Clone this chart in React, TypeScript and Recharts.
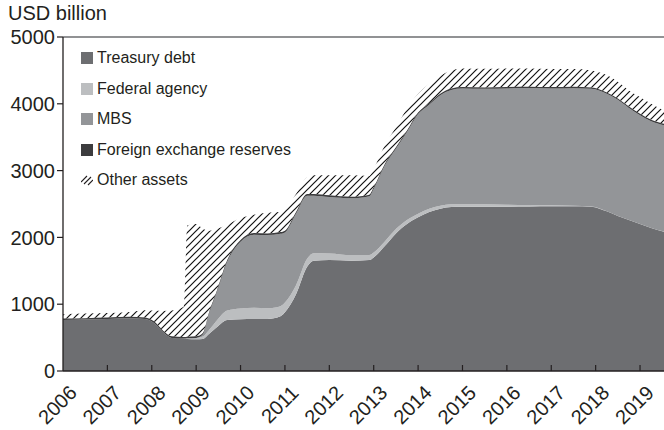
import React from "react";
import { AreaChart, Area, XAxis, YAxis, Legend, ReferenceLine } from "recharts";

const FONT = "'Liberation Sans', Arial, Helvetica, sans-serif";
const INK = "#231f20";

// time in decimal years
const dates = [
  2006.0, 2006.5, 2007.0, 2007.5, 2007.85, 2008.05, 2008.25, 2008.45, 2008.72, 2008.8,
  2009.0, 2009.15, 2009.3, 2009.47, 2009.7, 2010.0, 2010.3, 2010.6, 2010.9, 2011.0,
  2011.25, 2011.5, 2011.65, 2012.0, 2012.5, 2012.9, 2013.0, 2013.25, 2013.5, 2013.75,
  2014.0, 2014.25, 2014.5, 2014.75, 2015.0, 2015.5, 2016.0, 2016.5, 2017.0, 2017.5,
  2017.9, 2018.25, 2018.5, 2018.75, 2019.0, 2019.25, 2019.54,
];

const treasury = [
  765, 770, 780, 790, 780, 720, 585, 495, 485, 480,
  475, 480, 560, 660, 765, 775, 777, 778, 820, 880,
  1150, 1560, 1650, 1660, 1650, 1660, 1700, 1870, 2060, 2200,
  2300, 2380, 2430, 2455, 2460, 2460, 2460, 2462, 2465, 2465,
  2460, 2390, 2320, 2260, 2200, 2140, 2085,
];

const agency = [
  0, 0, 0, 0, 0, 0, 0, 0, 0, 10,
  20, 35, 60, 100, 140, 160, 168, 160, 150, 145,
  135, 120, 112, 100, 85, 76, 74, 70, 65, 60,
  55, 50, 45, 40, 38, 35, 30, 22, 15, 8,
  4, 3, 2, 2, 2, 2, 2,
];

const mbs = [
  0, 0, 0, 0, 0, 0, 0, 0, 0, 0,
  0, 30, 255, 425, 730, 1000, 1095, 1097, 1085, 1050,
  1069, 944, 862, 844, 850, 879, 951, 1136, 1201, 1316,
  1492, 1557, 1653, 1713, 1731, 1729, 1740, 1751, 1750, 1761,
  1760, 1756, 1737, 1677, 1627, 1597, 1592,
];

const fxReserves = [
  20, 20, 20, 22, 22, 23, 23, 24, 24, 24,
  25, 25, 25, 25, 25, 25, 25, 25, 25, 25,
  26, 26, 26, 26, 25, 25, 25, 24, 24, 24,
  23, 23, 22, 22, 21, 21, 20, 20, 20, 21,
  21, 21, 21, 21, 21, 21, 21,
];

const otherAssets = [
  65, 70, 70, 73, 108, 162, 292, 386, 451, 1666,
  1680, 1560, 1200, 920, 530, 330, 275, 310, 300, 320,
  270, 250, 280, 300, 320, 280, 280, 280, 300, 330,
  280, 290, 270, 270, 280, 280, 280, 275, 270, 265,
  255, 260, 250, 240, 250, 240, 200,
];

const yearTicks = [2006, 2007, 2008, 2009, 2010, 2011, 2012, 2013, 2014, 2015, 2016, 2017, 2018, 2019];
const valueTicks = [0, 1000, 2000, 3000, 4000, 5000];

const data = dates.map((t, i) => ({
  t,
  treasury: treasury[i],
  agency: agency[i],
  mbs: mbs[i],
  fx: fxReserves[i],
  other: otherAssets[i],
}));

const legendItems = [
  { name: "Treasury debt", color: "#6d6e71" },
  { name: "Federal agency", color: "#bcbec0" },
  { name: "MBS", color: "#939598" },
  { name: "Foreign exchange reserves", color: "#3c3c3e" },
  { name: "Other assets", color: "hatch" },
];

function LegendBox() {
  return (
    <div style={{ fontFamily: FONT, fontSize: 16, color: INK }}>
      {legendItems.map((item) => (
        <div key={item.name} style={{ display: "flex", alignItems: "center", height: 30.5 }}>
          <svg width={12} height={12} style={{ marginRight: 4, flex: "none" }}>
            {item.color === "hatch" ? (
              <g stroke={INK} strokeWidth={1.1}>
                <line x1={0} y1={8} x2={6} y2={2} />
                <line x1={3} y1={10} x2={10} y2={3} />
                <line x1={7} y1={11} x2={12} y2={6} />
              </g>
            ) : (
              <rect width={12} height={12} fill={item.color} />
            )}
          </svg>
          <span>{item.name}</span>
        </div>
      ))}
    </div>
  );
}

function YearTick({ x, y, payload }: any) {
  const ax = x + 15;
  const ay = y + 23;
  return (
    <g>
      {payload.value !== 2006 && (
        <line x1={x} y1={y} x2={x} y2={y - 6} stroke={INK} strokeWidth={1.2} />
      )}
      <text
        x={ax}
        y={ay}
        textAnchor="end"
        transform={`rotate(-45, ${ax}, ${ay})`}
        fontFamily={FONT}
        fontSize={20}
        fill={INK}
      >
        {payload.value}
      </text>
    </g>
  );
}

export default function App() {
  return (
    <div style={{ position: "absolute", left: 0, top: 0, width: 664, height: 430, background: "#fff" }}>
      <div
        style={{
          position: "absolute",
          left: 8,
          top: 3,
          fontFamily: FONT,
          fontSize: 20,
          lineHeight: "20px",
          color: INK,
        }}
      >
        USD billion
      </div>
      <AreaChart width={664} height={430} data={data} margin={{ top: 37, right: 0, bottom: 0, left: 0 }}>
        <defs>
          <pattern id="hatch" patternUnits="userSpaceOnUse" width={7} height={7}>
            <path d="M-1,1 l2,-2 M0,7 l7,-7 M6,8 l2,-2" stroke="#111" strokeWidth={1.2} />
          </pattern>
        </defs>
        <Area type="monotone" dataKey="treasury" stackId="1" stroke="none" fill="#6d6e71" fillOpacity={1} isAnimationActive={false} />
        <Area type="monotone" dataKey="agency" stackId="1" stroke="none" fill="#bcbec0" fillOpacity={1} isAnimationActive={false} />
        <Area type="monotone" dataKey="mbs" stackId="1" stroke="none" fill="#939598" fillOpacity={1} isAnimationActive={false} />
        <Area type="monotone" dataKey="fx" stackId="1" stroke="none" fill="#3c3c3e" fillOpacity={1} isAnimationActive={false} />
        <Area type="monotone" dataKey="other" stackId="1" stroke="none" fill="url(#hatch)" fillOpacity={1} isAnimationActive={false} />
        <ReferenceLine y={5000} stroke="#6d6e71" strokeWidth={1.5} />
        <XAxis
          dataKey="t"
          type="number"
          domain={[2006, 2019.54]}
          ticks={yearTicks}
          allowDataOverflow
          height={59}
          tickSize={0}
          tickMargin={0}
          tickLine={false}
          axisLine={{ stroke: INK, strokeWidth: 1.3 }}
          tick={<YearTick />}
          interval={0}
        />
        <YAxis
          type="number"
          domain={[0, 5000]}
          ticks={valueTicks}
          width={63}
          tickSize={6}
          tickMargin={2}
          axisLine={{ stroke: INK, strokeWidth: 1.3 }}
          tickLine={{ stroke: INK, strokeWidth: 1.2 }}
          tick={{ fontFamily: FONT, fontSize: 20, fill: INK }}
          interval={0}
        />
        <Legend
          layout="vertical"
          align="center"
          verticalAlign="middle"
          content={<LegendBox />}
          wrapperStyle={{ position: "absolute", left: 81, top: 43, width: "auto", height: "auto" }}
        />
      </AreaChart>
    </div>
  );
}
